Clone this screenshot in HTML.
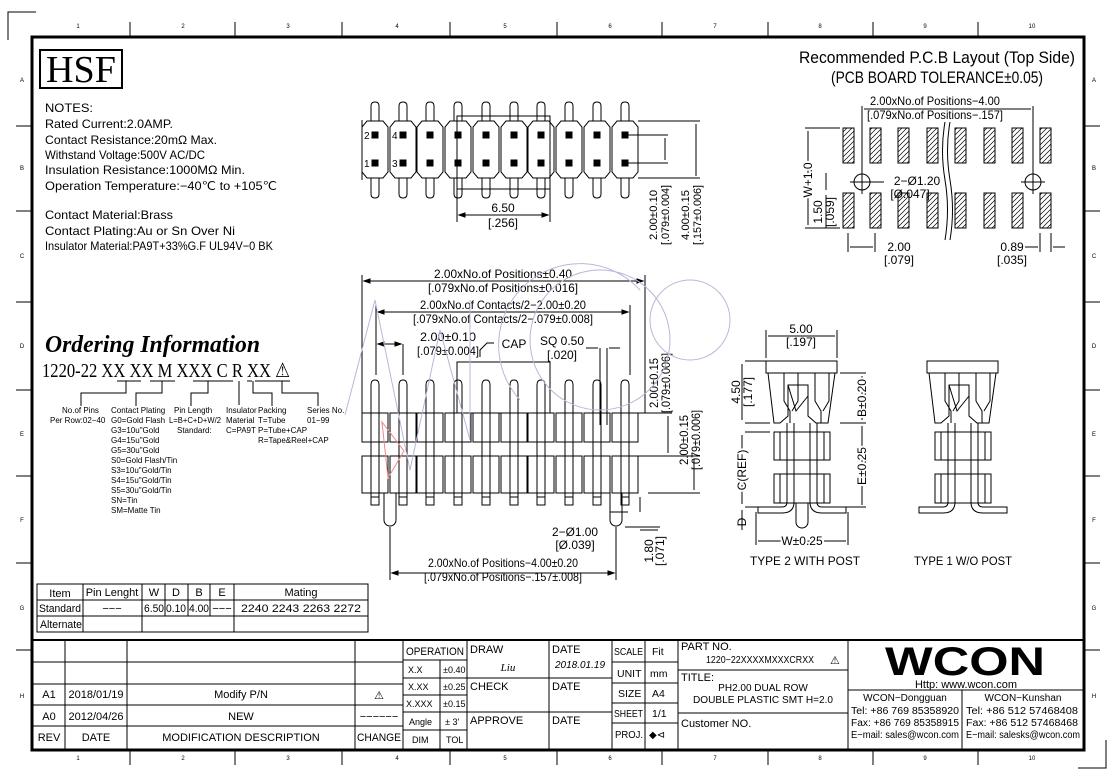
<!DOCTYPE html>
<html><head><meta charset="utf-8"><style>
html,body{margin:0;padding:0;background:#fff}
svg{display:block}
text{font-family:"Liberation Sans",sans-serif;fill:#000}
.s{font-family:"Liberation Serif",serif}
</style></head><body>
<svg width="1114" height="780" viewBox="0 0 1114 780" xmlns="http://www.w3.org/2000/svg">
<defs>
<g id="tu" fill="none" stroke="#000" stroke-width="1">
 <path d="M-4,-29 V-44 Q-4,-48 0,-48 Q4,-48 4,-44 V-29"/>
 <path d="M-4,28 V44 Q-4,48 0,48 Q4,48 4,44 V28"/>
 <path d="M-8,-29 H8 L13,-23 V22 L8,28 H-8 L-13,22 V-23 Z"/>
 <rect x="-3" y="-18" width="6" height="6" fill="#000"/>
 <rect x="-3" y="10" width="6" height="6" fill="#000"/>
</g>
<g id="fu" fill="none" stroke="#000" stroke-width="1">
 <path d="M-4,92 V-28 Q-4,-33 0,-33 Q4,-33 4,-28 V92"/>
 <rect x="-13" y="0" width="26" height="29" fill="#fff"/>
 <rect x="-13" y="43" width="26" height="37" fill="#fff"/>
 <line x1="-4" y1="0" x2="-4" y2="80"/><line x1="4" y1="0" x2="4" y2="80"/>
 <rect x="-4" y="84" width="8" height="8"/>
</g>
<g id="sv" fill="none" stroke="#000" stroke-width="1">
 <rect x="0" y="0" width="71" height="12"/>
 <path d="M2,12 L8,62 H14 L22,55 V24 H42 V55 L50,62 H62 L69,12"/>
 <path d="M22,24 L30,50 L42,35"/>
 <path d="M18,12 V40 L24,50 V62 M32,12 V40 L26,50"/>
 <path d="M49,12 V40 L55,50 V62 M63,12 V40 L57,50"/>
 <rect x="8" y="71" width="56" height="28"/>
 <rect x="14" y="71" width="44" height="28" fill="#fff"/>
 <rect x="8" y="113" width="56" height="29"/>
 <rect x="14" y="113" width="44" height="29" fill="#fff"/>
 <path d="M21,62 V141 M28,62 V141 M51,62 V141 M44,62 V141"/>
 <path d="M21,141 Q21,146 16,146 H-8 V152 H16 Q28,152 28,141"/>
 <path d="M51,141 Q51,146 56,146 H80 V152 H56 Q44,152 44,141"/>
</g>
<pattern id="hat" width="5" height="5" patternUnits="userSpaceOnUse"><path d="M0,5 L5,0 M-1,1 L1,-1 M4,6 L6,4" stroke="#000" stroke-width="0.7"/></pattern>
</defs>

<!-- frame -->
<path d="M8,40 V12 H36" fill="none" stroke="#000"/>
<path d="M1106,740 V768 H1078" fill="none" stroke="#000"/>
<rect x="32" y="37" width="1052" height="713" fill="none" stroke="#000" stroke-width="3"/>
<g stroke="#000" stroke-width="1">
<line x1="130" y1="22" x2="130" y2="37"/><line x1="235" y1="22" x2="235" y2="37"/><line x1="342" y1="22" x2="342" y2="37"/><line x1="450" y1="22" x2="450" y2="37"/><line x1="557" y1="22" x2="557" y2="37"/><line x1="662" y1="22" x2="662" y2="37"/><line x1="768" y1="22" x2="768" y2="37"/><line x1="873" y1="22" x2="873" y2="37"/><line x1="978" y1="22" x2="978" y2="37"/>
<line x1="130" y1="750" x2="130" y2="765"/><line x1="235" y1="750" x2="235" y2="765"/><line x1="342" y1="750" x2="342" y2="765"/><line x1="450" y1="750" x2="450" y2="765"/><line x1="557" y1="750" x2="557" y2="765"/><line x1="662" y1="750" x2="662" y2="765"/><line x1="768" y1="750" x2="768" y2="765"/><line x1="873" y1="750" x2="873" y2="765"/><line x1="978" y1="750" x2="978" y2="765"/>
<line x1="16" y1="126" x2="32" y2="126"/><line x1="16" y1="211" x2="32" y2="211"/><line x1="16" y1="302" x2="32" y2="302"/><line x1="16" y1="390" x2="32" y2="390"/><line x1="16" y1="476" x2="32" y2="476"/><line x1="16" y1="563" x2="32" y2="563"/><line x1="16" y1="650" x2="32" y2="650"/>
<line x1="1084" y1="126" x2="1100" y2="126"/><line x1="1084" y1="211" x2="1100" y2="211"/><line x1="1084" y1="302" x2="1100" y2="302"/><line x1="1084" y1="390" x2="1100" y2="390"/><line x1="1084" y1="476" x2="1100" y2="476"/><line x1="1084" y1="563" x2="1100" y2="563"/><line x1="1084" y1="650" x2="1100" y2="650"/>
</g>
<g font-size="6" class="s" text-anchor="middle">
<text x="78" y="28">1</text><text x="183" y="28">2</text><text x="288" y="28">3</text><text x="397" y="28">4</text><text x="505" y="28">5</text><text x="610" y="28">6</text><text x="715" y="28">7</text><text x="820" y="28">8</text><text x="925" y="28">9</text><text x="1032" y="28">10</text>
<text x="78" y="760">1</text><text x="183" y="760">2</text><text x="288" y="760">3</text><text x="397" y="760">4</text><text x="505" y="760">5</text><text x="610" y="760">6</text><text x="715" y="760">7</text><text x="820" y="760">8</text><text x="925" y="760">9</text><text x="1032" y="760">10</text>
<text x="22" y="82">A</text><text x="22" y="170">B</text><text x="22" y="258">C</text><text x="22" y="348">D</text><text x="22" y="436">E</text><text x="22" y="522">F</text><text x="22" y="610">G</text><text x="22" y="698">H</text>
<text x="1094" y="82">A</text><text x="1094" y="170">B</text><text x="1094" y="258">C</text><text x="1094" y="348">D</text><text x="1094" y="436">E</text><text x="1094" y="522">F</text><text x="1094" y="610">G</text><text x="1094" y="698">H</text>
</g>

<!-- HSF + notes -->
<rect x="40" y="50" width="82" height="38" fill="none" stroke="#000" stroke-width="2"/>
<text x="81" y="82" class="s" font-size="38" text-anchor="middle" textLength="70" lengthAdjust="spacingAndGlyphs">HSF</text>
<g font-size="12">
<text x="45" y="112" textLength="48" lengthAdjust="spacingAndGlyphs">NOTES:</text>
<text x="45" y="128" textLength="128" lengthAdjust="spacingAndGlyphs">Rated Current:2.0AMP.</text>
<text x="45" y="144" textLength="172" lengthAdjust="spacingAndGlyphs">Contact Resistance:20mΩ Max.</text>
<text x="45" y="159" textLength="160" lengthAdjust="spacingAndGlyphs">Withstand Voltage:500V AC/DC</text>
<text x="45" y="174" textLength="200" lengthAdjust="spacingAndGlyphs">Insulation Resistance:1000MΩ Min.</text>
<text x="45" y="190" textLength="232" lengthAdjust="spacingAndGlyphs">Operation Temperature:−40℃ to +105℃</text>
<text x="45" y="219" textLength="128" lengthAdjust="spacingAndGlyphs">Contact Material:Brass</text>
<text x="45" y="235" textLength="190" lengthAdjust="spacingAndGlyphs">Contact Plating:Au or Sn Over Ni</text>
<text x="45" y="250" textLength="228" lengthAdjust="spacingAndGlyphs">Insulator Material:PA9T+33%G.F UL94V−0 BK</text>
</g>

<!-- Ordering info -->
<text x="45" y="352" class="s" font-size="24" font-weight="bold" font-style="italic" textLength="215" lengthAdjust="spacingAndGlyphs">Ordering Information</text>
<text x="42" y="377" class="s" font-size="20" textLength="248" lengthAdjust="spacingAndGlyphs">1220-22 XX XX M XXX C R XX ⚠</text>
<g stroke="#000" fill="none" stroke-width="1">
<path d="M117,381 H141 M150,381 H175 M193,381 H233 M247,381 H252 M255,381 H290"/>
<path d="M126,381 V393 H81 V406 M162,381 V393 H136 V406 M208,381 V393 H191 V406 M239,381 V405 M253,381 V393 H272 V406 M282,381 V393 H318 V406"/>
</g>
<g class="s" font-size="8">
<text x="62" y="413">No.of Pins</text><text x="50" y="423">Per Row:02−40</text>
<text x="111" y="413">Contact Plating</text><text x="111" y="423">G0=Gold Flash</text><text x="111" y="433">G3=10u"Gold</text><text x="111" y="443">G4=15u"Gold</text><text x="111" y="453">G5=30u"Gold</text><text x="111" y="463">S0=Gold Flash/Tin</text><text x="111" y="473">S3=10u"Gold/Tin</text><text x="111" y="483">S4=15u"Gold/Tin</text><text x="111" y="493">S5=30u"Gold/Tin</text><text x="111" y="503">SN=Tin</text><text x="111" y="513">SM=Matte Tin</text>
<text x="174" y="413">Pin Length</text><text x="169" y="423" textLength="52" lengthAdjust="spacingAndGlyphs">L=B+C+D+W/2</text><text x="177" y="433">Standard:</text>
<text x="226" y="413">Insulator</text><text x="226" y="423">Material</text><text x="226" y="433">C=PA9T</text>
<text x="258" y="413">Packing</text><text x="258" y="423">T=Tube</text><text x="258" y="433">P=Tube+CAP</text><text x="258" y="443">R=Tape&amp;Reel+CAP</text>
<text x="307" y="413">Series No.</text><text x="307" y="423">01−99</text>
</g>

<!-- Top view -->
<use href="#tu" x="375" y="150"/><use href="#tu" x="403" y="150"/><use href="#tu" x="430" y="150"/><use href="#tu" x="458" y="150"/><use href="#tu" x="486" y="150"/><use href="#tu" x="514" y="150"/><use href="#tu" x="541" y="150"/><use href="#tu" x="569" y="150"/><use href="#tu" x="597" y="150"/><use href="#tu" x="625" y="150"/>
<g font-size="10"><text x="364" y="139">2</text><text x="392" y="139">4</text><text x="364" y="167">1</text><text x="392" y="167">3</text></g>
<g stroke="#000" fill="none" stroke-width="1">
<rect x="457" y="116" width="93" height="73"/>
<path d="M362,120 V180 M457,189 V222 M550,189 V222 M459,215 H548"/>
<path d="M626,135 H668 M626,163 H668 M665,138 V160 M638,121 H700 M638,178 H700 M696,124 V176"/>
<path d="M459,215 l6,-2 v4 z M548,215 l-6,-2 v4 z" fill="#000"/>
</g>
<text x="503" y="212" font-size="12" text-anchor="middle">6.50</text>
<text x="503" y="227" font-size="12" text-anchor="middle">[.256]</text>
<g font-size="11" text-anchor="middle">
<text transform="translate(657,215) rotate(-90)" textLength="50" lengthAdjust="spacingAndGlyphs">2.00±0.10</text>
<text transform="translate(669,215) rotate(-90)" textLength="60" lengthAdjust="spacingAndGlyphs">[.079±0.004]</text>
<text transform="translate(689,215) rotate(-90)" textLength="50" lengthAdjust="spacingAndGlyphs">4.00±0.15</text>
<text transform="translate(701,215) rotate(-90)" textLength="60" lengthAdjust="spacingAndGlyphs">[.157±0.006]</text>
</g>

<!-- Front view -->
<rect x="457" y="362" width="93" height="51" fill="none" stroke="#000"/>
<use href="#fu" x="375" y="413"/><use href="#fu" x="403" y="413"/><use href="#fu" x="430" y="413"/><use href="#fu" x="458" y="413"/><use href="#fu" x="486" y="413"/><use href="#fu" x="514" y="413"/><use href="#fu" x="541" y="413"/><use href="#fu" x="569" y="413"/><use href="#fu" x="597" y="413"/><use href="#fu" x="625" y="413"/>
<g stroke="#000" fill="none" stroke-width="1">
<path d="M384,493 V520 A6,6 0 0 0 396,520 V493 M610,493 V520 A6,6 0 0 0 622,520 V493"/>
<path d="M362,275 V413 M645,275 V413 M364,281 H643 M376,305 V375 M630,305 V375 M378,312 H628 M378,344 H401 M403,344 V375"/>
<path d="M390,527 V580 M616,527 V580 M392,573 H614 M600,348 V425 M607,348 V425 M586,348 H598 M609,348 H620"/>
<path d="M480,357 V350 L487,343 H494 M460,362 H550"/>
<path d="M638,413 H672 M638,456 H672 M668,416 V453 M648,456 H700 M648,493 H700 M694,459 V490 M640,497 V512 M625,527 H660 M640,530 H658 M628,512 H610"/>
<path d="M364,281 l6,-2 v4z M643,281 l-6,-2 v4z M378,312 l6,-2 v4z M628,312 l-6,-2 v4z M378,344 l6,-2v4z M401,344 l-6,-2 v4z M392,573 l6,-2 v4z M614,573 l-6,-2 v4z" fill="#000"/>
</g>
<g font-size="12" text-anchor="middle">
<text x="503" y="278" textLength="138" lengthAdjust="spacingAndGlyphs">2.00xNo.of Positions±0.40</text>
<text x="503" y="292" textLength="150" lengthAdjust="spacingAndGlyphs">[.079xNo.of Positions±0.016]</text>
<text x="503" y="309" textLength="166" lengthAdjust="spacingAndGlyphs">2.00xNo.of Contacts/2−2.00±0.20</text>
<text x="503" y="323" textLength="180" lengthAdjust="spacingAndGlyphs">[.079xNo.of Contacts/2−.079±0.008]</text>
<text x="448" y="341" textLength="56" lengthAdjust="spacingAndGlyphs">2.00±0.10</text>
<text x="448" y="355" textLength="62" lengthAdjust="spacingAndGlyphs">[.079±0.004]</text>
<text x="514" y="348">CAP</text>
<text x="562" y="345">SQ 0.50</text>
<text x="562" y="359">[.020]</text>
<text x="575" y="536" textLength="46" lengthAdjust="spacingAndGlyphs">2−Ø1.00</text>
<text x="575" y="549">[Ø.039]</text>
<text x="503" y="567" textLength="150" lengthAdjust="spacingAndGlyphs">2.00xNo.of Positions−4.00±0.20</text>
<text x="503" y="581" textLength="158" lengthAdjust="spacingAndGlyphs">[.079xNo.of Positions−.157±.008]</text>
<text transform="translate(658,383) rotate(-90)" textLength="50" lengthAdjust="spacingAndGlyphs">2.00±0.15</text>
<text transform="translate(670,383) rotate(-90)" textLength="60" lengthAdjust="spacingAndGlyphs">[.079±0.006]</text>
<text transform="translate(688,440) rotate(-90)" textLength="50" lengthAdjust="spacingAndGlyphs">2.00±0.15</text>
<text transform="translate(700,440) rotate(-90)" textLength="60" lengthAdjust="spacingAndGlyphs">[.079±0.006]</text>
<text transform="translate(653,551) rotate(-90)">1.80</text>
<text transform="translate(664,551) rotate(-90)">[.071]</text>
</g>
<path d="M382,422 L388,478 L404,451 Z" fill="none" stroke="#e88" stroke-width="1"/>

<!-- watermark -->
<g fill="none" stroke="#b8b8d8" stroke-width="1">
<path d="M345,415 L375,300 L410,470 L440,330 L470,440 L470,300"/>
<circle cx="600" cy="340" r="70"/>
<circle cx="690" cy="320" r="40"/>
<path d="M520,400 A80,80 0 0 1 640,290"/>
</g>

<!-- Side views -->
<use href="#sv" x="766" y="361"/>
<path d="M796,503 V522 A6,6 0 0 0 808,522 V503" fill="none" stroke="#000"/>
<use href="#sv" x="927" y="361"/>
<g stroke="#000" fill="none">
<path d="M766,358 V330 M837,358 V330 M768,336 H835 M745,361 H770 M745,423 H770 M742,364 V420 M840,373 H866 M840,423 H866 M862,376 V420 M862,426 V505 M840,507 H866 M745,432 H770 M745,507 H770 M742,435 V504 M742,510 V530 M756,512 V545 M848,512 V545 M758,541 H846"/>
</g>
<g font-size="12" text-anchor="middle">
<text x="801" y="333">5.00</text><text x="801" y="346">[.197]</text>
<text transform="translate(740,392) rotate(-90)">4.50</text>
<text transform="translate(752,392) rotate(-90)">[.177]</text>
<text transform="translate(866,398) rotate(-90)" fill="#000" style="paint-order:stroke" stroke="#fff" stroke-width="4">B±0.20</text>
<text transform="translate(866,466) rotate(-90)" fill="#000" style="paint-order:stroke" stroke="#fff" stroke-width="4">E±0.25</text>
<text transform="translate(746,470) rotate(-90)" fill="#000" style="paint-order:stroke" stroke="#fff" stroke-width="4">C(REF)</text>
<text transform="translate(746,522) rotate(-90)">D</text>
<text x="802" y="545" fill="#000" style="paint-order:stroke" stroke="#fff" stroke-width="4">W±0.25</text>
<text x="805" y="565" textLength="110" lengthAdjust="spacingAndGlyphs">TYPE 2 WITH POST</text>
<text x="963" y="565" textLength="98" lengthAdjust="spacingAndGlyphs">TYPE 1 W/O POST</text>
</g>

<!-- PCB layout -->
<text x="937" y="63" font-size="17" text-anchor="middle" textLength="276" lengthAdjust="spacingAndGlyphs">Recommended P.C.B Layout (Top Side)</text>
<text x="937" y="83" font-size="17" text-anchor="middle" textLength="212" lengthAdjust="spacingAndGlyphs">(PCB BOARD TOLERANCE±0.05)</text>
<g stroke="#000" fill="url(#hat)">
<rect x="843" y="128" width="11" height="35"/><rect x="870" y="128" width="11" height="35"/><rect x="898" y="128" width="11" height="35"/><rect x="927" y="128" width="11" height="35"/><rect x="955" y="128" width="11" height="35"/><rect x="984" y="128" width="11" height="35"/><rect x="1012" y="128" width="11" height="35"/><rect x="1040" y="128" width="11" height="35"/>
<rect x="843" y="193" width="11" height="35"/><rect x="870" y="193" width="11" height="35"/><rect x="898" y="193" width="11" height="35"/><rect x="927" y="193" width="11" height="35"/><rect x="955" y="193" width="11" height="35"/><rect x="984" y="193" width="11" height="35"/><rect x="1012" y="193" width="11" height="35"/><rect x="1040" y="193" width="11" height="35"/>
</g>
<g stroke="#000" fill="none">
<path d="M945,122 Q940,150 945,180 Q950,210 945,240 M950,122 Q945,150 950,180 Q955,210 950,240"/>
<circle cx="862" cy="182" r="8"/><circle cx="1033" cy="182" r="8"/>
<path d="M850,182 H874 M862,170 V194 M1021,182 H1045 M1033,170 V194 M862,106 V170 M1033,106 V170 M864,109 H1031"/>
<path d="M840,128 H805 M840,228 H805 M808,131 V225 M826,173 V190 M826,195 V228 M848,233 V252 M875,233 V252 M850,247 H873 M1040,233 V252 M1051,233 V252 M1025,247 H1038 M1053,247 H1065 M870,182 H884"/>
</g>
<g font-size="12" text-anchor="middle">
<text x="935" y="105" textLength="130" lengthAdjust="spacingAndGlyphs">2.00xNo.of Positions−4.00</text>
<text x="935" y="119" textLength="136" lengthAdjust="spacingAndGlyphs">[.079xNo.of Positions−.157]</text>
<text x="917" y="185">2−Ø1.20</text>
<text x="910" y="198">[Ø.047]</text>
<text transform="translate(812,180) rotate(-90)" fill="#000" style="paint-order:stroke" stroke="#fff" stroke-width="4">W+1.0</text>
<text transform="translate(822,212) rotate(-90)">1.50</text>
<text transform="translate(834,212) rotate(-90)">[.059]</text>
<text x="899" y="251">2.00</text><text x="899" y="264">[.079]</text>
<text x="1012" y="251">0.89</text><text x="1012" y="264">[.035]</text>
</g>

<!-- Item table -->
<g stroke="#000" fill="none">
<rect x="37" y="584" width="331" height="48"/>
<path d="M37,600 H368 M37,616 H368 M83,584 V632 M142,584 V632 M165,584 V616 M188,584 V616 M210,584 V616 M234,584 V632"/>
</g>
<g font-size="11" text-anchor="middle">
<text x="60" y="597">Item</text><text x="112" y="596">Pin Lenght</text><text x="154" y="596">W</text><text x="176" y="596">D</text><text x="199" y="596">B</text><text x="222" y="596">E</text><text x="301" y="596">Mating</text>
<text x="60" y="612" textLength="42" lengthAdjust="spacingAndGlyphs">Standard</text><text x="112" y="612">−−−</text><text x="154" y="612" textLength="20" lengthAdjust="spacingAndGlyphs">6.50</text><text x="176" y="612" textLength="20" lengthAdjust="spacingAndGlyphs">0.10</text><text x="199" y="612" textLength="20" lengthAdjust="spacingAndGlyphs">4.00</text><text x="222" y="612">−−−</text><text x="301" y="612" textLength="120" lengthAdjust="spacingAndGlyphs">2240 2243 2263 2272</text>
<text x="61" y="628" textLength="42" lengthAdjust="spacingAndGlyphs">Alternate</text>
</g>

<!-- Title block -->
<g stroke="#000" fill="none" stroke-width="1">
<line x1="32" y1="640" x2="1084" y2="640" stroke-width="2"/>
<path d="M32,662 H403 M32,684 H403 M32,705 H403 M32,726 H403 M65,640 V750 M127,640 V750 M355,640 V750 M403,640 V750"/>
<path d="M403,660 H467 M403,678 H467 M403,695 H467 M403,712 H467 M403,730 H467 M440,660 V750 M467,640 V750"/>
<path d="M467,678 H612 M467,712 H612 M549,640 V750 M612,640 V750 M645,640 V750 M612,662 H678 M612,683 H678 M612,703 H678 M612,723 H678 M678,640 V750"/>
<path d="M678,670 H848 M678,713 H848 M848,640 V750 M848,690 H1084 M962,690 V750"/>
</g>
<g font-size="11">
<text x="49" y="698" text-anchor="middle">A1</text><text x="49" y="720" text-anchor="middle">A0</text><text x="49" y="741" text-anchor="middle">REV</text>
<text x="96" y="698" text-anchor="middle">2018/01/19</text><text x="96" y="720" text-anchor="middle">2012/04/26</text><text x="96" y="741" text-anchor="middle">DATE</text>
<text x="241" y="698" text-anchor="middle">Modify P/N</text><text x="241" y="720" text-anchor="middle">NEW</text><text x="241" y="741" text-anchor="middle">MODIFICATION DESCRIPTION</text>
<text x="379" y="699" text-anchor="middle">⚠</text><text x="379" y="720" text-anchor="middle">−−−−−−</text><text x="379" y="741" text-anchor="middle" textLength="44" lengthAdjust="spacingAndGlyphs">CHANGE</text>
<text x="435" y="655" text-anchor="middle" textLength="58" lengthAdjust="spacingAndGlyphs">OPERATION</text>
<g font-size="9"><text x="408" y="673">X.X</text><text x="443" y="673">±0.40</text><text x="408" y="690">X.XX</text><text x="443" y="690">±0.25</text><text x="406" y="707">X.XXX</text><text x="443" y="707">±0.15</text><text x="409" y="725">Angle</text><text x="445" y="725">± 3'</text><text x="412" y="743">DIM</text><text x="446" y="743">TOL</text></g>
<text x="470" y="653">DRAW</text><text x="508" y="671" class="s" font-style="italic" text-anchor="middle">Liu</text>
<text x="470" y="690">CHECK</text><text x="470" y="724">APPROVE</text>
<text x="552" y="653">DATE</text><text x="580" y="668" font-style="italic" font-size="10" text-anchor="middle">2018.01.19</text>
<text x="552" y="690">DATE</text><text x="552" y="724">DATE</text>
<g font-size="10.5">
<text x="614" y="655" textLength="29" lengthAdjust="spacingAndGlyphs">SCALE</text><text x="652" y="655">Fit</text>
<text x="617" y="677">UNIT</text><text x="650" y="677">mm</text>
<text x="618" y="697">SIZE</text><text x="652" y="697">A4</text>
<text x="614" y="717" textLength="29" lengthAdjust="spacingAndGlyphs">SHEET</text><text x="652" y="717">1/1</text>
<text x="615" y="738" textLength="28" lengthAdjust="spacingAndGlyphs">PROJ.</text><text x="649" y="738" font-size="10">◆⊲</text>
</g>
<text x="681" y="650">PART NO.</text>
<text x="760" y="663" text-anchor="middle" font-size="10" textLength="108" lengthAdjust="spacingAndGlyphs">1220−22XXXXMXXXCRXX</text><text x="830" y="664">⚠</text>
<text x="681" y="681">TITLE:</text>
<text x="763" y="691" text-anchor="middle" font-size="10">PH2.00 DUAL ROW</text>
<text x="763" y="703" text-anchor="middle" font-size="10" textLength="140" lengthAdjust="spacingAndGlyphs">DOUBLE PLASTIC SMT H=2.0</text>
<text x="681" y="727">Customer NO.</text>
<text x="965" y="675" text-anchor="middle" font-size="40" font-weight="bold" fill="#222" textLength="160" lengthAdjust="spacingAndGlyphs">WCON</text>
<text x="966" y="688" text-anchor="middle" font-size="11">Http: www.wcon.com</text>
<g font-size="10">
<text x="905" y="701" text-anchor="middle">WCON−Dongguan</text>
<text x="851" y="714" textLength="108" lengthAdjust="spacingAndGlyphs">Tel: +86 769 85358920</text>
<text x="851" y="726" textLength="108" lengthAdjust="spacingAndGlyphs">Fax: +86 769 85358915</text>
<text x="851" y="738" textLength="108" lengthAdjust="spacingAndGlyphs">E−mail: sales@wcon.com</text>
<text x="1023" y="701" text-anchor="middle">WCON−Kunshan</text>
<text x="966" y="714" textLength="112" lengthAdjust="spacingAndGlyphs">Tel: +86 512 57468408</text>
<text x="966" y="726" textLength="112" lengthAdjust="spacingAndGlyphs">Fax: +86 512 57468468</text>
<text x="966" y="738" textLength="114" lengthAdjust="spacingAndGlyphs">E−mail: salesks@wcon.com</text>
</g>
</g>
</svg>
</body></html>
